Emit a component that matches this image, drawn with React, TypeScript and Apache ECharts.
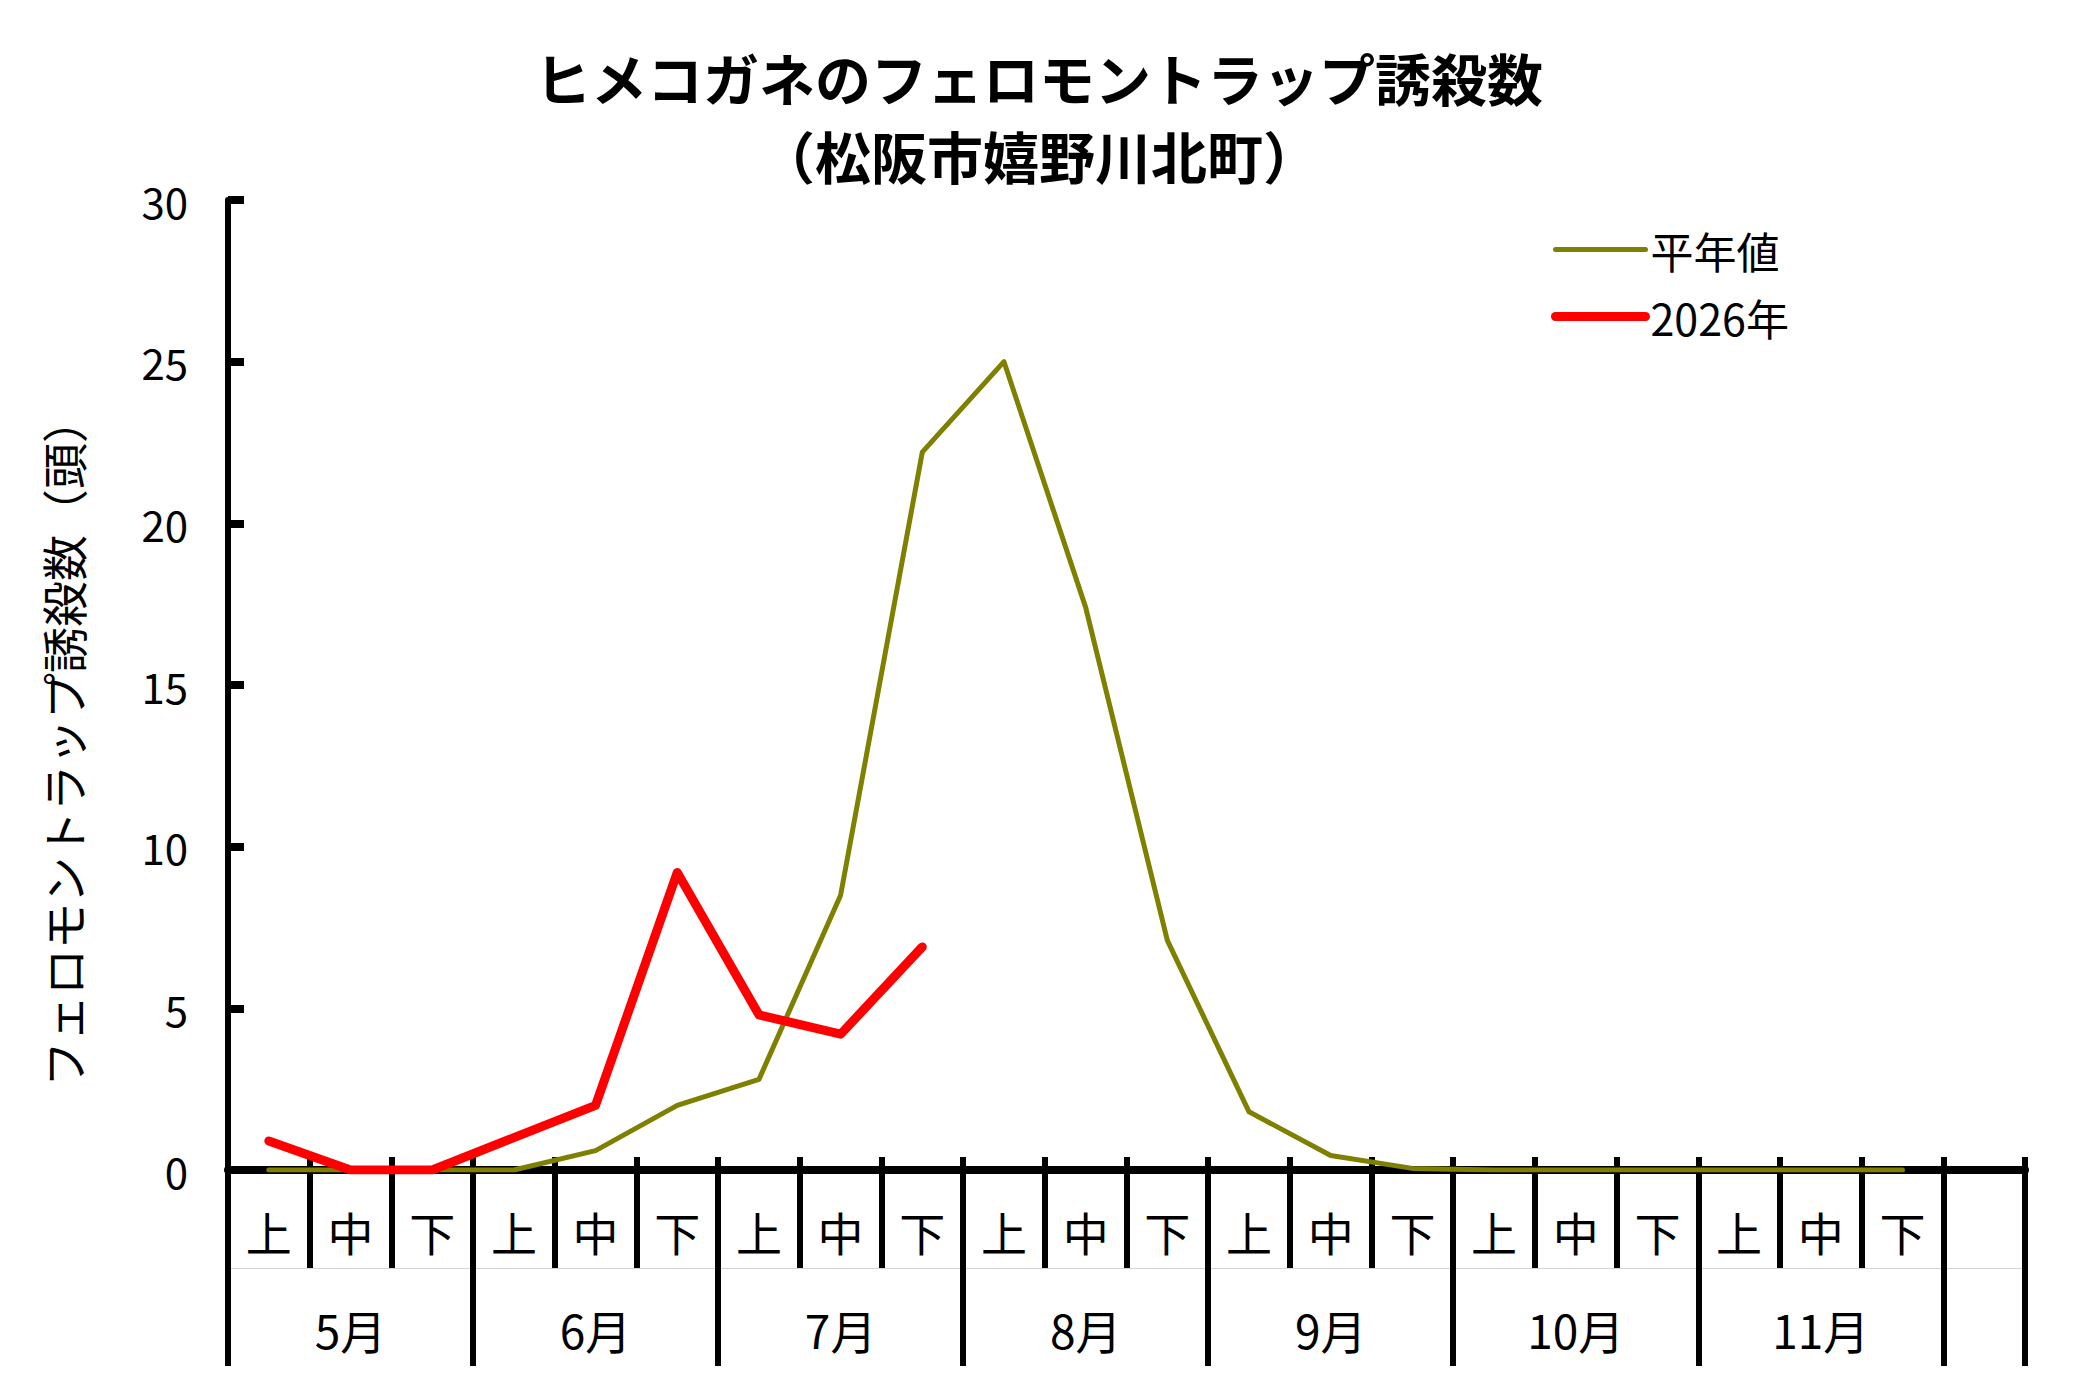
import React, { useEffect, useRef } from "react";
import * as echarts from "echarts";

const titleText = "ヒメコガネのフェロモントラップ誘殺数\n（松阪市嬉野川北町）";
const yAxisName = "フェロモントラップ誘殺数（頭）";
const months = ["5月", "6月", "7月", "8月", "9月", "10月", "11月"];
const periods = ["上", "中", "下"];
const seriesNames = ["平年値", "2026年"];
// 平年値 (5月上旬 … 11月下旬)
const normalValues = [0, 0, 0, 0, 0.6, 2.0, 2.8, 8.5, 22.2, 25.0, 17.4, 7.1, 1.8, 0.45, 0.05, 0, 0, 0, 0, 0, 0];
// 2026年 (5月上旬 … 7月下旬)
const values2026 = [0.9, 0, 0, 1.0, 2.0, 9.2, 4.8, 4.2, 6.9];
const yMin = 0;
const yMax = 30;
const yInterval = 5;

const FONT = "'Noto Sans CJK JP', 'Noto Sans', sans-serif";

// 22 slots: 21 旬 + one empty slot at the end
const slotLabels: string[] = [...months.flatMap(() => periods), ""];
const slotMonths: string[] = [...months.flatMap((m) => periods.map(() => m)), ""];

export default function App() {
  const ref = useRef<HTMLDivElement>(null);

  useEffect(() => {
    if (!ref.current) return;
    const chart = echarts.init(ref.current, undefined, { renderer: "svg" });
    const lastSlot = slotLabels.length - 1;
    const hiddenSymbol = { color: "rgba(0,0,0,0)", borderWidth: 0, opacity: 0 };
    const option: any = {
      animation: false,
      backgroundColor: "#ffffff",
      textStyle: { fontFamily: FONT, color: "#000" },
      title: {
        text: titleText,
        left: "center",
        top: 32,
        textStyle: {
          fontFamily: FONT,
          fontSize: 56,
          fontWeight: "bold",
          lineHeight: 78,
          color: "#000",
        },
      },
      legend: {
        orient: "vertical",
        left: 1546,
        top: 223,
        itemWidth: 90,
        itemHeight: 20,
        itemGap: 24,
        textStyle: { fontFamily: FONT, fontSize: 43, color: "#000" },
        data: [
          { name: seriesNames[0], itemStyle: hiddenSymbol, lineStyle: { width: 5, cap: "round" } },
          { name: seriesNames[1], itemStyle: hiddenSymbol, lineStyle: { width: 9, cap: "round" } },
        ],
      },
      grid: { left: 228, right: 53, top: 200, bottom: 219, containLabel: false },
      xAxis: [
        {
          type: "category",
          position: "bottom",
          data: slotLabels,
          boundaryGap: true,
          axisLine: { show: true, onZero: false, lineStyle: { color: "#000", width: 8 } },
          axisTick: { show: true, inside: false, length: 98, interval: 0, lineStyle: { color: "#000", width: 6 } },
          axisLabel: { show: true, interval: 0, fontSize: 46, margin: 38, color: "#000", fontFamily: FONT },
          splitLine: { show: false },
        },
        {
          type: "category",
          position: "bottom",
          data: slotLabels,
          boundaryGap: true,
          axisLine: { show: false, onZero: false },
          axisTick: { show: true, inside: true, length: 13, interval: 0, lineStyle: { color: "#000", width: 6 } },
          axisLabel: { show: false },
          splitLine: { show: false },
        },
        {
          type: "category",
          position: "bottom",
          data: slotMonths,
          boundaryGap: true,
          axisLine: { show: false, onZero: false },
          axisTick: {
            show: true,
            inside: false,
            length: 196,
            interval: (i: number) => i % 3 === 0,
            lineStyle: { color: "#000", width: 6 },
          },
          axisLabel: {
            show: true,
            interval: (i: number) => i % 3 === 1 && i < lastSlot,
            fontSize: 46,
            margin: 136,
            color: "#000",
            fontFamily: FONT,
          },
          splitLine: { show: false },
        },
        {
          type: "category",
          position: "bottom",
          offset: 98,
          data: slotLabels,
          boundaryGap: true,
          axisLine: { show: true, onZero: false, lineStyle: { color: "#d4d4d4", width: 1 } },
          axisTick: { show: false },
          axisLabel: { show: false },
          splitLine: { show: false },
        },
      ],
      yAxis: {
        type: "value",
        min: yMin,
        max: yMax,
        interval: yInterval,
        name: yAxisName,
        nameLocation: "middle",
        nameRotate: 90,
        nameGap: 143,
        nameTextStyle: { fontSize: 46, color: "#000", fontFamily: FONT, padding: [0, 114, 0, 0] },
        axisLine: { show: true, onZero: false, lineStyle: { color: "#000", width: 6 } },
        axisTick: { show: true, inside: true, length: 16, lineStyle: { color: "#000", width: 8 } },
        axisLabel: { fontSize: 42, color: "#000", margin: 40, fontFamily: FONT },
        splitLine: { show: false },
      },
      series: [
        {
          name: seriesNames[0],
          type: "line",
          xAxisIndex: 0,
          data: normalValues,
          symbol: "none",
          showSymbol: false,
          lineStyle: { color: "#808000", width: 5, cap: "round", join: "round" },
          itemStyle: { color: "#808000" },
          z: 3,
        },
        {
          name: seriesNames[1],
          type: "line",
          xAxisIndex: 0,
          data: values2026,
          symbol: "none",
          showSymbol: false,
          lineStyle: { color: "#ff0000", width: 9, cap: "round", join: "round" },
          itemStyle: { color: "#ff0000" },
          z: 4,
        },
      ],
    };
    chart.setOption(option);
    return () => chart.dispose();
  }, []);

  return (
    <div
      ref={ref}
      style={{ position: "fixed", left: 0, top: 0, width: 2078, height: 1389, background: "#fff" }}
    />
  );
}
